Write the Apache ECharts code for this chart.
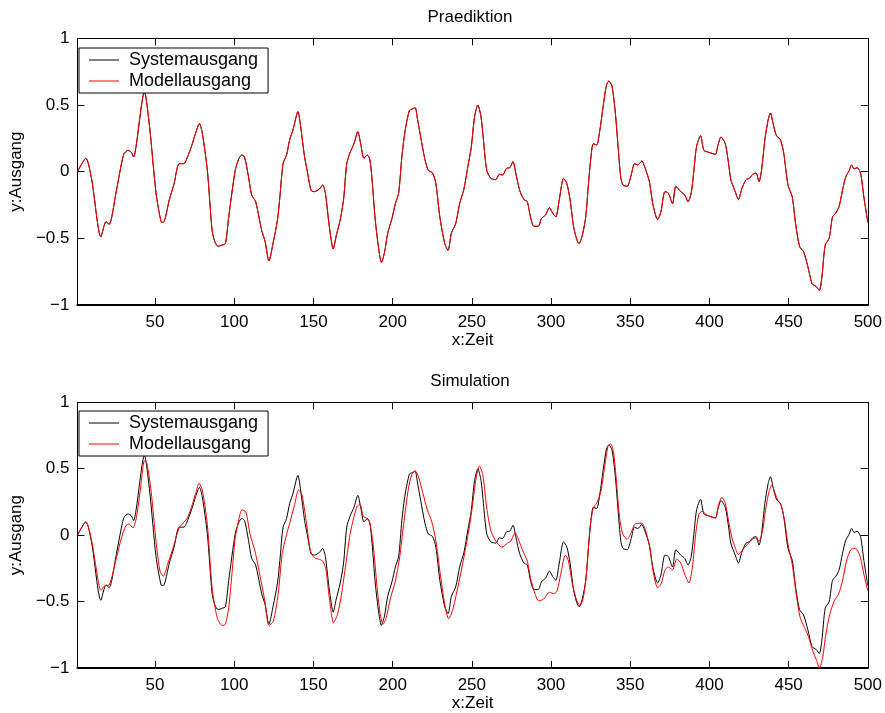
<!DOCTYPE html>
<html>
<head>
<meta charset="utf-8">
<script src="https://cdn.jsdelivr.net/npm/echarts@6/dist/echarts.min.js"></script>
<style>
html,body{margin:0;padding:0;background:#fff;}
#chart{width:885px;height:713px;}
</style>
</head>
<body>
<div id="chart"></div>
<script>
// ---- data ----
const titles = ['Praediktion', 'Simulation'];
const seriesNames = ['Systemausgang', 'Modellausgang'];
const xTickValues = [50, 100, 150, 200, 250, 300, 350, 400, 450, 500];
const yTickValues = [-1, -0.5, 0, 0.5, 1];

// System output (x, y)
const sysX = [1,6.3,10,15.8,19,21,25.6,30.2,33,35,36.5,38,43.3,46.5,50.6,53.8,55.2,59,62,65.2,68.3,69.8,73,75.6,78,79.8,83,86,87.7,89.8,92.3,94.4,96.5,100.6,103,104.8,106.5,109,111,113.5,117.3,119.4,121.9,124.6,127.3,128.8,130.8,133,135,137,140.2,141.9,144.4,146,148.5,150.6,153.8,155.8,157.5,160,162.5,164.2,166.9,169,171,173,175.6,178,179.8,181.9,184,185.6,187,189,191.3,192.9,194.8,196.9,199.6,201.7,203.8,205.8,207.9,210.6,212.3,214.2,215.6,217.7,220.4,222.5,225.2,227.3,229.8,232.9,235,237.1,239.8,242.3,245,247.5,249.6,251.7,253.8,255.8,257.3,259.4,262,265.2,267.3,269.4,271.9,274,276,277.7,280.2,282.9,285,287,289.2,291.9,294,296.5,299,301,303,305.2,307.9,310,312,314.2,316.3,317.7,319.8,321.9,323.5,325.2,326.7,328.8,330.8,332.9,335,336.5,338.5,340.6,342.3,344,345.4,348.1,350.6,352.7,354.8,357.3,359,362.1,364.2,367.3,369.4,371.9,374,376.7,378.8,381.9,384.4,386.5,388.5,390.2,391.9,394.4,396.5,399.6,403.8,405.2,407.3,410,412.1,413.5,416.3,418.3,420.4,423.1,425.2,427.3,429.4,431.3,432.9,435,437.1,438.5,440.2,442.3,444.8,446.9,449.6,452.3,454.4,456.9,459.4,462.1,464.8,467.3,469.4,471,473.1,475.6,477.7,479.8,481.9,484,486,488.1,489.8,491.3,493.3,495.4,497.5,500];
const sysY = [0,0.1,-0.06,-0.49,-0.375,-0.395,-0.14,0.13,0.16,0.145,0.11,0.19,0.6,0.34,-0.16,-0.375,-0.38,-0.21,-0.09,0.06,0.06,0.09,0.19,0.29,0.36,0.29,0.01,-0.44,-0.525,-0.56,-0.55,-0.54,-0.34,0.01,0.1,0.125,0.11,-0.04,-0.175,-0.225,-0.44,-0.52,-0.67,-0.53,-0.36,-0.19,0.06,0.125,0.24,0.31,0.45,0.34,0.11,0.01,-0.14,-0.15,-0.13,-0.1,-0.16,-0.41,-0.58,-0.49,-0.36,-0.21,0.06,0.14,0.21,0.3,0.21,0.1,0.125,0.09,-0.06,-0.36,-0.59,-0.68,-0.61,-0.46,-0.35,-0.24,-0.16,0.11,0.31,0.46,0.47,0.48,0.4,0.26,0.09,0.01,-0.01,-0.09,-0.34,-0.54,-0.59,-0.46,-0.39,-0.24,-0.13,0.04,0.18,0.41,0.5,0.41,0.24,0.01,-0.05,-0.06,-0.02,-0.025,0.025,0.03,0.075,-0.01,-0.14,-0.21,-0.225,-0.34,-0.41,-0.41,-0.35,-0.325,-0.27,-0.31,-0.34,-0.21,-0.05,-0.09,-0.21,-0.41,-0.51,-0.54,-0.475,-0.34,-0.11,0.11,0.21,0.2,0.31,0.49,0.65,0.68,0.64,0.44,0.19,-0.04,-0.1,-0.11,-0.025,0.06,0.05,0.08,0.04,-0.075,-0.24,-0.36,-0.3,-0.15,-0.16,-0.24,-0.11,-0.15,-0.175,-0.225,-0.16,0.01,0.19,0.27,0.16,0.145,0.13,0.19,0.26,0.21,0.06,-0.06,-0.15,-0.21,-0.13,-0.06,-0.05,-0.02,-0.01,-0.075,0.01,0.24,0.39,0.44,0.36,0.27,0.24,0.14,-0.1,-0.19,-0.39,-0.56,-0.6,-0.71,-0.84,-0.86,-0.89,-0.79,-0.55,-0.5,-0.34,-0.31,-0.26,-0.14,-0.04,0.005,0.05,0.02,0.03,-0.01,-0.19,-0.38];

// Model output, one-step prediction (visually on top of the system output)
const predY = [0,0.1,-0.06,-0.49,-0.375,-0.395,-0.14,0.13,0.16,0.145,0.11,0.19,0.6,0.34,-0.16,-0.375,-0.38,-0.21,-0.09,0.06,0.06,0.09,0.19,0.29,0.36,0.29,0.01,-0.44,-0.525,-0.56,-0.55,-0.54,-0.34,0.01,0.1,0.125,0.11,-0.04,-0.175,-0.225,-0.44,-0.52,-0.67,-0.53,-0.36,-0.19,0.06,0.125,0.24,0.31,0.45,0.34,0.11,0.01,-0.14,-0.15,-0.13,-0.1,-0.16,-0.41,-0.58,-0.49,-0.36,-0.21,0.06,0.14,0.21,0.3,0.21,0.1,0.125,0.09,-0.06,-0.36,-0.59,-0.68,-0.61,-0.46,-0.35,-0.24,-0.16,0.11,0.31,0.46,0.47,0.48,0.4,0.26,0.09,0.01,-0.01,-0.09,-0.34,-0.54,-0.59,-0.46,-0.39,-0.24,-0.13,0.04,0.18,0.41,0.5,0.41,0.24,0.01,-0.05,-0.06,-0.02,-0.025,0.025,0.03,0.075,-0.01,-0.14,-0.21,-0.225,-0.34,-0.41,-0.41,-0.35,-0.325,-0.27,-0.31,-0.34,-0.21,-0.05,-0.09,-0.21,-0.41,-0.51,-0.54,-0.475,-0.34,-0.11,0.11,0.21,0.2,0.31,0.49,0.65,0.68,0.64,0.44,0.19,-0.04,-0.1,-0.11,-0.025,0.06,0.05,0.08,0.04,-0.075,-0.24,-0.36,-0.3,-0.15,-0.16,-0.24,-0.11,-0.15,-0.175,-0.225,-0.16,0.01,0.19,0.27,0.16,0.145,0.13,0.19,0.26,0.21,0.06,-0.06,-0.15,-0.21,-0.13,-0.06,-0.05,-0.02,-0.01,-0.075,0.01,0.24,0.39,0.44,0.36,0.27,0.24,0.14,-0.1,-0.19,-0.39,-0.56,-0.6,-0.71,-0.84,-0.86,-0.89,-0.79,-0.55,-0.5,-0.34,-0.31,-0.26,-0.14,-0.04,0.005,0.05,0.02,0.03,-0.01,-0.19,-0.38];

// Model output, free-run simulation (x, y)
const simX = [1,6.3,10,13.1,15.8,18.3,21,25.6,28.8,31.5,33.5,36,38,40.6,43.3,44.8,47.5,50.6,53.1,55.2,57.9,61,65.2,67.7,70.4,73.5,76,77.7,79.8,83,86,89.2,92.3,94.4,96.5,98.5,100.6,102.7,104.8,107.3,110,113.1,116.3,119.4,121.9,124.6,127.7,130.2,133,135,138.1,140.6,142.7,145.4,148.1,150.6,153.1,155.8,157.9,160,162.7,165.2,167.7,170.4,173.1,175.2,177.7,179.4,181.5,184,185.6,187.7,190.2,192.3,194,196,198.5,201.7,204.4,206.9,210,212.1,214.2,216.3,219,221.9,224.6,227.3,229.8,232.9,235.4,237.7,240.2,243.3,246.5,248,250.2,252.7,254.8,256.9,259.4,262.1,265.2,269,272.5,274.6,277.3,279.8,281.9,285,287,289.8,292.3,295.4,299,301.7,303.8,306.5,309,311,313.5,316.3,318.3,320.4,322.5,324.6,326.7,328.8,331.5,334,336,337.7,339.4,341.3,343.3,345.4,348.1,350.6,352.7,354.8,357.3,359.4,362.1,364.8,367.3,369.4,371.9,374,376.7,379.4,381.9,384.4,387.1,389.2,391.3,393.3,395.4,398.5,401.7,403.8,405.8,407.9,410,412.1,414.2,416.3,418.3,421,423.5,426,428.8,431.3,433.5,435.6,437.7,439.4,441.3,443.3,445.4,447.5,449.6,452.3,454.8,457.3,460,462.7,465.2,467.7,469.4,471.5,473.5,476,478.8,481.5,484,486.5,489.2,491.3,493.3,495.4,497.5,500];
const simY = [0,0.1,-0.045,-0.27,-0.415,-0.38,-0.375,-0.17,-0.02,0.07,0.085,0.055,0.12,0.33,0.56,0.54,0.33,-0.045,-0.27,-0.31,-0.22,-0.11,0.055,0.09,0.13,0.23,0.33,0.39,0.34,0.08,-0.395,-0.62,-0.68,-0.67,-0.545,-0.295,-0.02,0.105,0.19,0.175,0.005,-0.12,-0.31,-0.5,-0.68,-0.65,-0.445,-0.145,0.005,0.09,0.23,0.34,0.305,0.105,-0.12,-0.17,-0.18,-0.195,-0.26,-0.47,-0.66,-0.595,-0.445,-0.22,0.005,0.12,0.22,0.23,0.14,0.125,0.09,-0.07,-0.395,-0.61,-0.67,-0.62,-0.48,-0.345,-0.17,0.08,0.355,0.455,0.485,0.44,0.32,0.19,0.105,-0.045,-0.27,-0.52,-0.63,-0.57,-0.445,-0.27,-0.07,0.03,0.205,0.43,0.52,0.455,0.205,0.03,-0.045,-0.09,-0.06,-0.045,0.02,-0.045,-0.11,-0.195,-0.32,-0.44,-0.495,-0.48,-0.43,-0.44,-0.42,-0.27,-0.15,-0.195,-0.37,-0.495,-0.53,-0.47,-0.27,0.055,0.205,0.24,0.33,0.53,0.67,0.685,0.63,0.405,0.13,0.005,-0.03,0.02,0.08,0.09,0.09,0.045,-0.08,-0.295,-0.395,-0.37,-0.265,-0.24,-0.26,-0.18,-0.21,-0.295,-0.36,-0.245,0.005,0.155,0.18,0.15,0.135,0.13,0.23,0.285,0.24,0.105,-0.02,-0.095,-0.145,-0.11,-0.075,-0.045,-0.02,-0.045,0.03,0.205,0.33,0.38,0.32,0.26,0.22,0.105,-0.07,-0.22,-0.445,-0.62,-0.695,-0.77,-0.87,-0.945,-1.0,-0.92,-0.745,-0.595,-0.495,-0.445,-0.345,-0.195,-0.11,-0.1,-0.11,-0.17,-0.295,-0.42];

// ---- chart ----
const FONT = '"Liberation Sans", Arial, Helvetica, sans-serif';
const zip = (xs, ys) => xs.map((x, i) => [x, ys[i]]);
const minusFmt = v => (v < 0 ? '\u2212' + String(Math.abs(v)) : String(v));

const gridDefs = [
  { left: 70.6, top: 38.3, width: 798.4, height: 266.7 },
  { left: 70.6, top: 402.3, width: 798.4, height: 266 }
];

const axisLine = { show: true, onZero: false, lineStyle: { color: '#000', width: 1 } };
const bottomLine = { show: true, onZero: false, lineStyle: { color: '#000', width: 2 } };
const tickStyle = { lineStyle: { color: '#000', width: 1 } };

const xAxes = [], yAxes = [];
gridDefs.forEach((g, gi) => {
  xAxes.push({
    type: 'value', gridIndex: gi, position: 'bottom', min: 1, max: 500,
    axisLine: bottomLine,
    axisTick: Object.assign({ show: true, inside: true, length: 7, customValues: xTickValues }, tickStyle),
    axisLabel: { show: true, customValues: xTickValues, margin: 9, color: '#000', fontSize: 17, fontFamily: FONT },
    splitLine: { show: false },
    name: 'x:Zeit', nameLocation: 'middle', nameGap: 27,
    nameTextStyle: { color: '#000', fontSize: 17, fontFamily: FONT }
  });
  xAxes.push({
    type: 'value', gridIndex: gi, position: 'top', min: 1, max: 500,
    axisLine: axisLine,
    axisTick: Object.assign({ show: true, inside: true, length: 7, customValues: xTickValues }, tickStyle),
    axisLabel: { show: false }, splitLine: { show: false }
  });
  yAxes.push({
    type: 'value', gridIndex: gi, position: 'left', min: -1, max: 1, interval: 0.5,
    axisLine: axisLine,
    axisTick: Object.assign({ show: true, inside: true, length: 7, customValues: yTickValues }, tickStyle),
    axisLabel: { show: true, customValues: yTickValues, formatter: minusFmt, margin: 8, color: '#000', fontSize: 17, fontFamily: FONT },
    splitLine: { show: false },
    name: 'y:Ausgang', nameLocation: 'middle', nameGap: 52,
    nameTextStyle: { color: '#000', fontSize: 17, fontFamily: FONT }
  });
  yAxes.push({
    type: 'value', gridIndex: gi, position: 'right', min: -1, max: 1, interval: 0.5,
    axisLine: axisLine,
    axisTick: Object.assign({ show: true, inside: true, length: 7, customValues: yTickValues }, tickStyle),
    axisLabel: { show: false }, splitLine: { show: false }
  });
});

const lineSeries = (name, xi, yi, data, color) => ({
  name: name, type: 'line', xAxisIndex: xi, yAxisIndex: yi, data: data,
  symbol: 'none', showSymbol: false, smooth: 0.25,
  lineStyle: { color: color, width: 1 }, itemStyle: { color: color },
  emphasis: { disabled: true }
});

const legendDef = (top) => ({
  left: 79, top: top, orient: 'vertical',
  data: seriesNames.map(n => ({ name: n, icon: 'rect' })),
  itemWidth: 30, itemHeight: 1, itemGap: 3,
  padding: [3, 10, 3, 10],
  backgroundColor: '#fff', borderColor: '#000', borderWidth: 1, borderRadius: 0,
  textStyle: { color: '#000', fontSize: 18, fontFamily: FONT, padding: [0, 0, 0, 5] },
  selectedMode: false
});

const option = {
  animation: false,
  backgroundColor: '#fff',
  title: [
    { text: titles[0], left: 470, top: 9, textAlign: 'center', padding: 0,
      textStyle: { color: '#000', fontSize: 17, fontWeight: 'normal', fontFamily: FONT } },
    { text: titles[1], left: 470, top: 373, textAlign: 'center', padding: 0,
      textStyle: { color: '#000', fontSize: 17, fontWeight: 'normal', fontFamily: FONT } }
  ],
  legend: [legendDef(48), legendDef(411)],
  grid: gridDefs,
  xAxis: xAxes,
  yAxis: yAxes,
  series: [
    lineSeries(seriesNames[0], 0, 0, zip(sysX, sysY), '#000'),
    lineSeries(seriesNames[1], 0, 0, zip(sysX, predY), '#ff0000'),
    lineSeries(seriesNames[0], 2, 2, zip(sysX, sysY), '#000'),
    lineSeries(seriesNames[1], 2, 2, zip(simX, simY), '#ff0000')
  ]
};

const chart = echarts.init(document.getElementById('chart'), null, { renderer: 'canvas' });
chart.setOption(option);
</script>
</body>
</html>
